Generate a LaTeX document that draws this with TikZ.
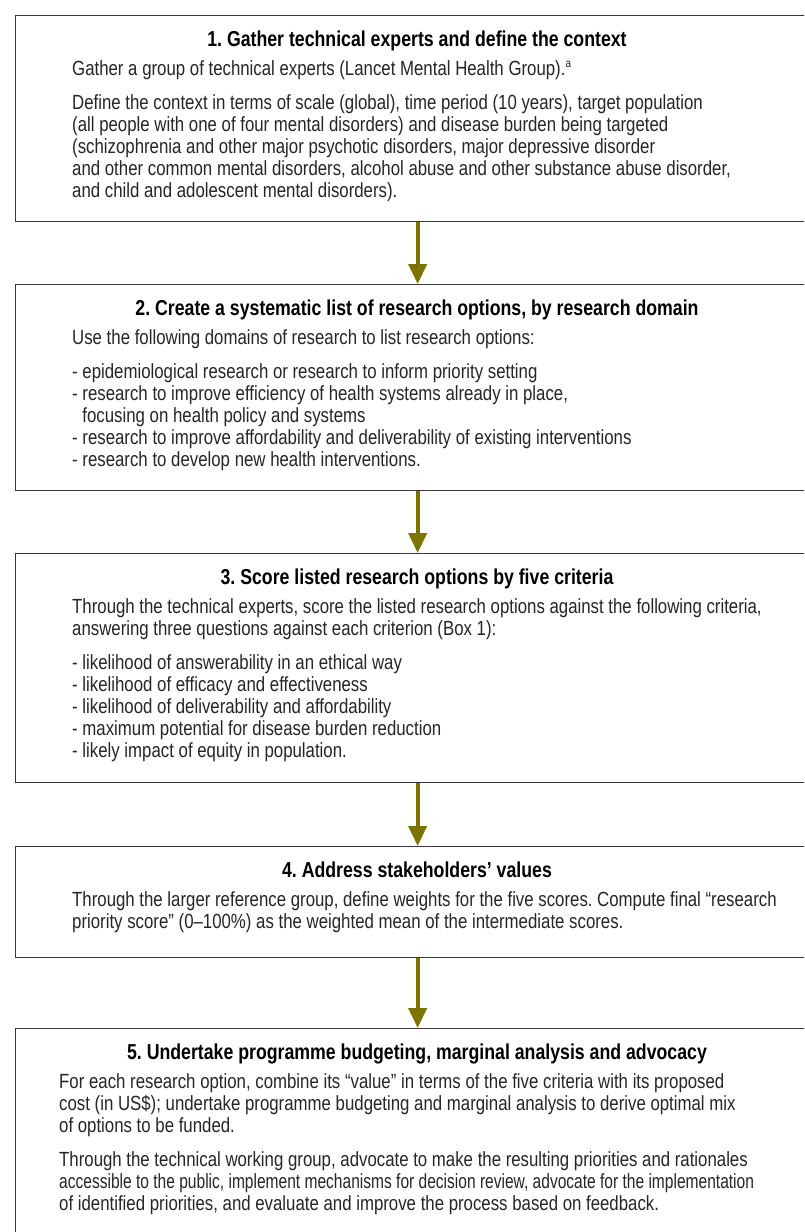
\documentclass[tikz,border=0pt]{standalone}
\usepackage{fontspec}
\setmainfont{Liberation Sans}[FakeStretch=0.82]
\usetikzlibrary{arrows.meta}
\definecolor{olivearrow}{RGB}{125,115,0}
\definecolor{boxline}{RGB}{55,55,55}
\definecolor{txt}{RGB}{38,38,38}
\frenchspacing
\begin{document}
\begin{tikzpicture}[x=1pt,y=-1pt,
  box/.style={draw=boxline,line width=1.3pt,anchor=north west,minimum width=804pt,inner sep=0pt},
  ttl/.style={anchor=base,inner sep=0pt,font=\fontsize{21.6}{24}\selectfont\bfseries,text=black},
  body/.style={anchor=base west,inner sep=0pt,font=\fontsize{20.5}{22}\selectfont,text=txt},
  flow/.style={draw=olivearrow,line width=4pt,-{Triangle[width=18pt,length=20pt]}}]
\useasboundingbox (0,0) rectangle (804,1232);
\clip (0,0) rectangle (804,1232);
\fill[white] (0,0) rectangle (804,1232);
% boxes
\node[box,minimum height=206pt] (b1) at (15,15) {};
\node[box,minimum height=206pt] (b2) at (15,284) {};
\node[box,minimum height=229pt] (b3) at (15,553) {};
\node[box,minimum height=111pt] (b4) at (15,846) {};
\node[box,minimum height=240pt] (b5) at (15,1028) {};
% arrows
\draw[flow] (b1.south) -- (b2.north);
\draw[flow] (b2.south) -- (b3.north);
\draw[flow] (b3.south) -- (b4.north);
\draw[flow] (b4.south) -- (b5.north);
% box 1
\node[ttl] (h1) at (417,46) {1. Gather technical experts and define the context};
\node[body] (t1a) at (72,75) {Gather a group of technical experts (Lancet Mental Health Group).\textsuperscript{\fontsize{12}{12}\selectfont a}};
\node[body] (t1b) at (72,109) {Define the context in terms of scale (global), time period (10 years), target population};
\node[body] (t1c) at (72,131) {(all people with one of four mental disorders) and disease burden being targeted};
\node[body] (t1d) at (72,153) {(schizophrenia and other major psychotic disorders, major depressive disorder};
\node[body] (t1e) at (72,175) {and other common mental disorders, alcohol abuse and other substance abuse disorder,};
\node[body] (t1f) at (72,197) {and child and adolescent mental disorders).};
% box 2
\node[ttl] (h2) at (417,315) {2. Create a systematic list of research options, by research domain};
\node[body] (t2a) at (72,344) {Use the following domains of research to list research options:};
\node[body] (t2b) at (72,378) {- epidemiological research or research to inform priority setting};
\node[body] (t2c) at (72,400) {- research to improve efficiency of health systems already in place,};
\node[body] (t2d) at (72,422) {\phantom{- }focusing on health policy and systems};
\node[body] (t2e) at (72,444) {- research to improve affordability and deliverability of existing interventions};
\node[body] (t2f) at (72,466) {- research to develop new health interventions.};
% box 3
\node[ttl] (h3) at (417,584) {3. Score listed research options by five criteria};
\node[body] (t3a) at (72,613) {Through the technical experts, score the listed research options against the following criteria,};
\node[body] (t3b) at (72,635) {answering three questions against each criterion (Box 1):};
\node[body] (t3c) at (72,669) {- likelihood of answerability in an ethical way};
\node[body] (t3d) at (72,691) {- likelihood of efficacy and effectiveness};
\node[body] (t3e) at (72,713) {- likelihood of deliverability and affordability};
\node[body] (t3f) at (72,735) {- maximum potential for disease burden reduction};
\node[body] (t3g) at (72,757) {- likely impact of equity in population.};
% box 4
\node[ttl] (h4) at (417,877) {4. Address stakeholders’ values};
\node[body] (t4a) at (72,906) {Through the larger reference group, define weights for the five scores. Compute final “research};
\node[body] (t4b) at (72,928) {priority score” (0–100\%) as the weighted mean of the intermediate scores.};
% box 5
\node[ttl] (h5) at (417,1059) {5. Undertake programme budgeting, marginal analysis and advocacy};
\node[body] (t5a) at (59,1088) {For each research option, combine its “value” in terms of the five criteria with its proposed};
\node[body] (t5b) at (59,1110) {cost (in US\$); undertake programme budgeting and marginal analysis to derive optimal mix};
\node[body] (t5c) at (59,1132) {of options to be funded.};
\node[body] (t5d) at (59,1166) {Through the technical working group, advocate to make the resulting priorities and rationales};
\node[body] (t5e) at (59,1188) {\scalebox{0.925}[1]{accessible to the public, implement mechanisms for decision review, advocate for the implementation}};
\node[body] (t5f) at (59,1210) {of identified priorities, and evaluate and improve the process based on feedback.};
\end{tikzpicture}
\end{document}
